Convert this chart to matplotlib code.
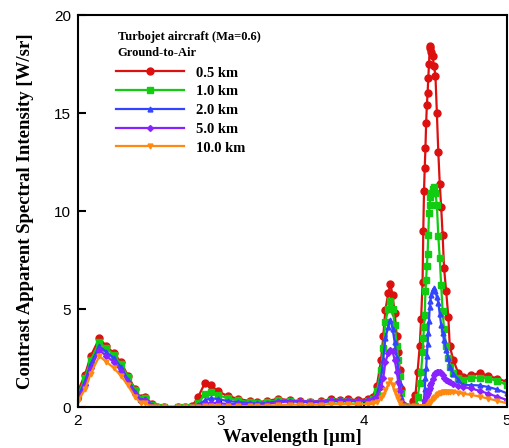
import matplotlib
matplotlib.use("Agg")
import matplotlib.pyplot as plt

# wavelength grid [um]
wavelength = [2.00, 2.05, 2.09, 2.15, 2.20, 2.25, 2.30, 2.35, 2.40, 2.44, 2.47, 2.52,
              2.55, 2.60, 2.70, 2.75, 2.80, 2.84, 2.89, 2.93, 2.98, 3.05, 3.12, 3.20,
              3.25, 3.32, 3.40, 3.48, 3.55, 3.62, 3.70, 3.77, 3.83, 3.89, 3.96, 4.03,
              4.06, 4.09, 4.12, 4.135, 4.15, 4.17, 4.185, 4.20, 4.215, 4.23, 4.24, 4.25,
              4.26, 4.27, 4.30, 4.33, 4.345, 4.36, 4.375, 4.39, 4.40, 4.41, 4.415, 4.42,
              4.425, 4.43, 4.435, 4.44, 4.445, 4.45, 4.455, 4.46, 4.465, 4.47, 4.48, 4.49,
              4.50, 4.51, 4.52, 4.53, 4.54, 4.55, 4.56, 4.575, 4.59, 4.60, 4.625, 4.66,
              4.69, 4.75, 4.81, 4.87, 4.93, 5.00]

km_05 = [0.8, 1.65, 2.6, 3.5, 3.1, 2.75, 2.3, 1.6, 0.9, 0.45, 0.53, 0.15,
         0.0, 0.0, 0.0, 0.0, 0.05, 0.5, 1.25, 1.1, 0.8, 0.55, 0.42, 0.3,
         0.25, 0.3, 0.42, 0.35, 0.3, 0.28, 0.3, 0.4, 0.38, 0.4, 0.35, 0.42,
         0.5, 1.05, 2.4, 3.6, 4.95, 5.8, 6.3, 5.7, 4.8, 3.6, 2.8, 1.9,
         0.9, 0.1, 0.0, 0.0, 0.3, 0.6, 1.8, 3.1, 4.5, 6.4, 9.0, 11.0,
         12.2, 13.2, 14.5, 15.4, 16.0, 16.8, 17.5, 18.4, 18.3, 18.1, 17.9, 17.4,
         16.9, 15.0, 13.0, 11.4, 10.2, 8.8, 7.1, 5.9, 4.6, 3.1, 2.4, 1.72,
         1.55, 1.63, 1.72, 1.6, 1.45, 1.29]

km_10 = [0.6, 1.5, 2.4, 3.3, 3.0, 2.65, 2.2, 1.55, 0.85, 0.4, 0.45, 0.1,
         0.0, 0.0, 0.0, 0.0, 0.02, 0.2, 0.65, 0.78, 0.6, 0.45, 0.35, 0.25,
         0.2, 0.25, 0.35, 0.3, 0.28, 0.25, 0.25, 0.3, 0.3, 0.3, 0.28, 0.3,
         0.4, 0.8, 1.9, 3.0, 4.35, 5.0, 5.4, 5.0, 4.2, 3.1, 2.4, 1.6,
         0.7, 0.05, 0.0, 0.0, 0.0, 0.05, 0.5, 1.2, 1.8, 2.8, 3.5, 4.1,
         4.7, 5.9, 6.5, 7.2, 7.8, 8.8, 9.9, 10.3, 10.7, 10.9, 11.1, 11.2,
         10.9, 10.3, 8.7, 7.6, 6.2, 4.9, 4.0, 3.1, 2.5, 2.05, 1.75, 1.5,
         1.38, 1.48, 1.5, 1.45, 1.35, 1.12]

km_20 = [0.5, 1.3, 2.2, 3.1, 2.8, 2.5, 2.05, 1.4, 0.75, 0.35, 0.4, 0.1,
         0.0, 0.0, 0.0, 0.0, 0.0, 0.1, 0.35, 0.45, 0.4, 0.3, 0.25, 0.2,
         0.18, 0.2, 0.3, 0.3, 0.28, 0.25, 0.25, 0.3, 0.3, 0.32, 0.3, 0.32,
         0.35, 0.6, 1.5, 2.4, 3.5, 4.1, 4.45, 4.0, 3.3, 2.5, 1.9, 1.2,
         0.5, 0.0, 0.0, 0.0, 0.0, 0.0, 0.0, 0.0, 0.0, 0.0, 0.1, 0.4,
         0.9, 1.5, 2.0, 2.6, 3.2, 3.76, 4.4, 5.1, 5.4, 5.7, 5.95, 6.05,
         5.9, 5.6, 5.3, 4.75, 4.2, 3.8, 3.4, 2.9, 2.5, 2.05, 1.7, 1.4,
         1.12, 1.12, 1.1, 1.02, 0.9, 0.7]

km_50 = [0.4, 1.1, 2.0, 2.9, 2.6, 2.3, 1.85, 1.3, 0.65, 0.3, 0.35, 0.05,
         0.0, 0.0, 0.0, 0.0, 0.0, 0.05, 0.15, 0.2, 0.2, 0.15, 0.15, 0.12,
         0.12, 0.15, 0.25, 0.28, 0.3, 0.28, 0.28, 0.35, 0.35, 0.35, 0.32, 0.35,
         0.4, 0.55, 1.0, 1.5, 2.3, 2.75, 2.9, 2.85, 2.4, 1.8, 1.3, 0.8,
         0.3, 0.0, 0.0, 0.0, 0.0, 0.0, 0.0, 0.0, 0.0, 0.0, 0.02, 0.1,
         0.2, 0.36, 0.5, 0.6, 0.7, 0.8, 0.88, 0.95, 1.1, 1.25, 1.45, 1.62,
         1.72, 1.78, 1.8, 1.8, 1.72, 1.62, 1.5, 1.4, 1.32, 1.29, 1.18, 1.06,
         1.02, 0.95, 0.82, 0.68, 0.53, 0.36]

km_100 = [0.3, 0.9, 1.7, 2.6, 2.3, 2.0, 1.6, 1.1, 0.5, 0.2, 0.2, 0.0,
          0.0, 0.0, 0.0, 0.0, 0.0, 0.0, 0.05, 0.05, 0.05, 0.05, 0.05, 0.05,
          0.05, 0.07, 0.1, 0.12, 0.12, 0.12, 0.12, 0.15, 0.15, 0.15, 0.15, 0.15,
          0.18, 0.25, 0.45, 0.6, 0.85, 1.15, 1.38, 1.1, 0.8, 0.55, 0.4, 0.2,
          0.05, 0.0, 0.0, 0.0, 0.0, 0.0, 0.0, 0.0, 0.0, 0.0, 0.0, 0.0,
          0.0, 0.0, 0.0, 0.0, 0.05, 0.1, 0.15, 0.19, 0.25, 0.3, 0.4, 0.47,
          0.53, 0.6, 0.65, 0.7, 0.73, 0.75, 0.77, 0.78, 0.78, 0.77, 0.75, 0.71,
          0.68, 0.62, 0.53, 0.43, 0.32, 0.19]

series = [
    (km_05, "0.5 km", "#dd1010", "o", 5.0),
    (km_10, "1.0 km", "#11cc11", "s", 4.0),
    (km_20, "2.0 km", "#3344ff", "^", 3.5),
    (km_50, "5.0 km", "#8822ff", "D", 3.0),
    (km_100, "10.0 km", "#ff8811", "v", 3.5),
]

serif = "Liberation Serif"
sans = "Liberation Sans"

fig = plt.figure(figsize=(5.09, 4.48), dpi=100)
ax = fig.add_axes([0.153, 0.0915, 0.843, 0.875])

for vals, lab, col, mk, ms in series:
    ax.plot(wavelength, vals, color=col, lw=1.6, marker=mk, ms=ms,
            mec=col, mfc=col, label=lab)

ax.set_xlim(2, 5)
ax.set_ylim(0, 20)
ax.set_xticks([2, 3, 4, 5])
ax.set_yticks([0, 5, 10, 15, 20])
ax.tick_params(direction="in", length=6, width=1.5, labelsize=11, pad=5,
               top=False, right=False)
for t in ax.get_xticklabels() + ax.get_yticklabels():
    t.set_fontfamily(sans)
for s in ax.spines.values():
    s.set_linewidth(1.5)

ax.set_xlabel("Wavelength [\u03bcm]", fontfamily=serif, fontweight="bold",
              fontsize=13.5, labelpad=1)
ax.set_ylabel("Contrast Apparent Spectral Intensity [W/sr]", fontfamily=serif,
              fontweight="bold", fontsize=13.5, labelpad=14)

ax.text(0.093, 0.958, "Turbojet aircraft (Ma=0.6)\nGround-to-Air",
        transform=ax.transAxes, va="top", ha="left", fontfamily=serif,
        fontweight="bold", fontsize=9, linespacing=1.4)

leg = ax.legend(loc="upper left", bbox_to_anchor=(0.0886, 0.869), frameon=False,
                borderpad=0, borderaxespad=0, handlelength=4.7, handletextpad=0.8,
                labelspacing=0.38, prop={"family": serif, "weight": "bold", "size": 10.5})

fig.savefig("out.png", dpi=100)
